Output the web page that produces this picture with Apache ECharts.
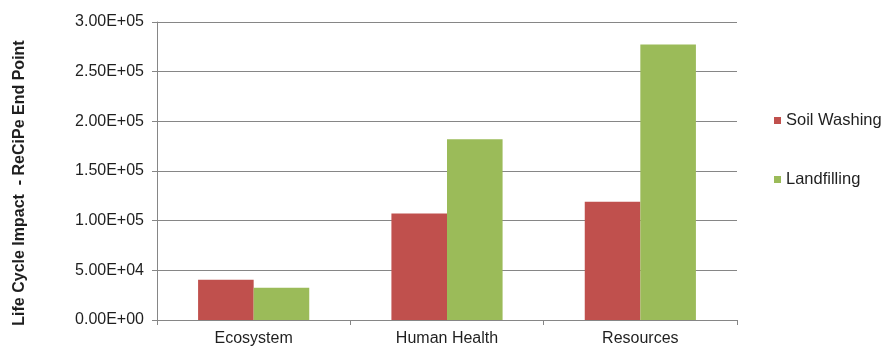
<!DOCTYPE html>
<html>
<head>
<meta charset="utf-8">
<script src="https://cdn.jsdelivr.net/npm/echarts@6/dist/echarts.min.js"></script>
<style>
  html, body { margin: 0; padding: 0; background: #fff; }
  #chart { width: 883px; height: 347px; }
</style>
</head>
<body>
<div id="chart"></div>
<script>
// Impact categories and endpoint scores per remediation option
const categories = ['Ecosystem', 'Human Health', 'Resources'];
const soilWashing = [40600, 107300, 119000];
const landfilling = [32500, 182000, 277300];
const seriesNames = ['Soil Washing', 'Landfilling'];
const yTitle = 'Life Cycle Impact  - ReCiPe End Point';

// Excel-style scientific notation, e.g. 2.50E+05
function sci(v) {
  if (v === 0) return '0.00E+00';
  const exp = Math.floor(Math.log10(Math.abs(v)));
  const mant = v / Math.pow(10, exp);
  const sign = exp < 0 ? '-' : '+';
  const e = String(Math.abs(exp)).padStart(2, '0');
  return mant.toFixed(2) + 'E' + sign + e;
}

const axisGray = '#868686';
const textColor = '#1f1f1f';
const font = 'Liberation Sans, Arial, sans-serif';

const chart = echarts.init(document.getElementById('chart'));
chart.setOption({
  animation: false,
  grid: {
    left: 157, right: 146, top: 22, bottom: 27,
    containLabel: false,
    outerBoundsMode: 'none'
  },
  legend: {
    orient: 'vertical',
    left: 769,
    top: 107,
    itemGap: 42,
    itemWidth: 7,
    itemHeight: 7,
    icon: 'rect',
    textStyle: { fontFamily: font, fontSize: 16.5, color: textColor },
    data: seriesNames
  },
  // Rotated value-axis title, placed beside the tick labels
  graphic: [{
    type: 'text',
    x: 19.5,
    y: 183,
    rotation: Math.PI / 2,
    style: {
      text: yTitle,
      fontFamily: font,
      fontSize: 16,
      fontWeight: 'bold',
      fill: textColor,
      align: 'center',
      verticalAlign: 'middle'
    }
  }],
  xAxis: {
    type: 'category',
    data: categories,
    axisLine: { lineStyle: { color: axisGray, width: 1 } },
    axisTick: { show: true, alignWithLabel: false, length: 5, lineStyle: { color: axisGray } },
    axisLabel: { fontFamily: font, fontSize: 16, color: textColor, margin: 11 }
  },
  yAxis: {
    type: 'value',
    min: 0,
    max: 300000,
    interval: 50000,
    axisLine: { show: true, lineStyle: { color: axisGray, width: 1 } },
    axisTick: { show: true, length: 5, lineStyle: { color: axisGray } },
    axisLabel: { fontFamily: font, fontSize: 16, color: textColor, margin: 13, formatter: sci },
    splitLine: { show: true, lineStyle: { color: axisGray, width: 1 } }
  },
  series: [
    {
      name: seriesNames[0],
      type: 'bar',
      data: soilWashing,
      barGap: '0%',
      barCategoryGap: '42.5%',
      itemStyle: { color: '#C0504D' }
    },
    {
      name: seriesNames[1],
      type: 'bar',
      data: landfilling,
      barGap: '0%',
      barCategoryGap: '42.5%',
      itemStyle: { color: '#9BBB59' }
    }
  ]
});
</script>
</body>
</html>
